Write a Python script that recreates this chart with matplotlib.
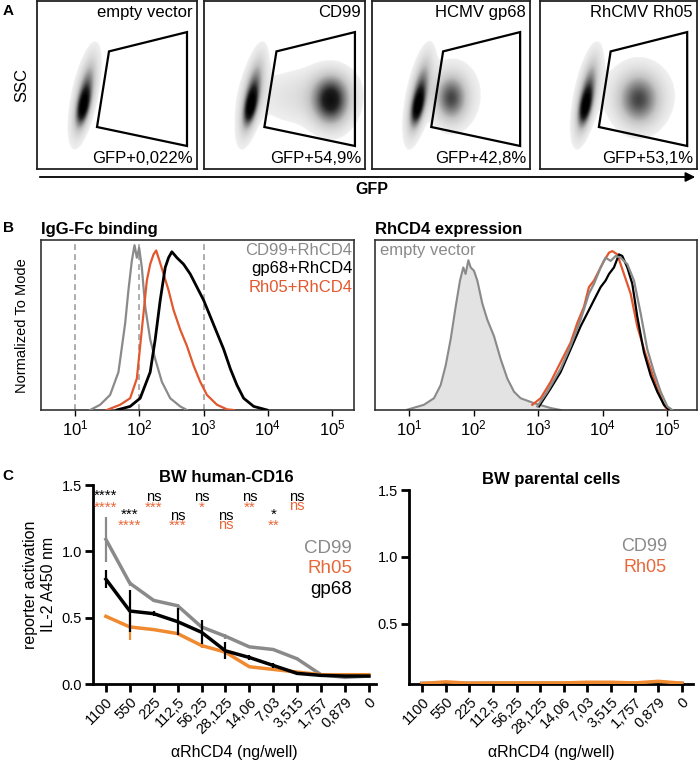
import numpy as np
import matplotlib
matplotlib.use('Agg')
import matplotlib.pyplot as plt
from matplotlib.patches import Polygon, FancyArrowPatch
from matplotlib.colors import LinearSegmentedColormap

plt.rcParams['font.family'] = ['Liberation Sans', 'DejaVu Sans']
plt.rcParams['mathtext.fontset'] = 'custom'
plt.rcParams['mathtext.rm'] = 'Liberation Sans'
plt.rcParams['mathtext.it'] = 'Liberation Sans:italic'
plt.rcParams['mathtext.bf'] = 'Liberation Sans:bold'

# ---------------- DATA ----------------
# Panel A
flow_titles = ['empty vector', 'CD99', 'HCMV gp68', 'RhCMV Rh05']
gfp_labels = ['GFP+0,022%', 'GFP+54,9%', 'GFP+42,8%', 'GFP+53,1%']
gate_x = [0.45, 0.9375, 0.9375, 0.375]
gate_y = [0.70, 0.815, 0.137, 0.25]
# density blobs: (cx, cy, sigma_along, sigma_across, tilt_deg, weight)
streak_blobs = [(0.30, 0.44, 0.14, 0.034, 12, 0.55),
                (0.29, 0.37, 0.07, 0.024, 12, 0.6),
                (0.29, 0.43, 0.18, 0.055, 12, 0.08)]
blobs_empty = []
blobs_cd99 = [(0.79, 0.40, 0.095, 0.075, 0, 0.75),
              (0.63, 0.43, 0.20, 0.11, 90, 0.14),
              (0.80, 0.50, 0.07, 0.09, 0, 0.10)]
blobs_gp68 = [(0.50, 0.42, 0.09, 0.065, 0, 0.55),
              (0.53, 0.45, 0.13, 0.11, 0, 0.12)]
blobs_rh05 = [(0.63, 0.41, 0.10, 0.085, 0, 0.55),
              (0.63, 0.45, 0.13, 0.15, 0, 0.12)]
cluster_blobs = [blobs_empty, blobs_cd99, blobs_gp68, blobs_rh05]

# Panel B left: IgG-Fc binding (log10 fluorescence, normalized count)
cd99_log = [1.234, 1.39, 1.545, 1.675, 1.78, 1.83, 1.883, 1.925, 1.961, 1.997, 2.039, 2.091,
            2.169, 2.247, 2.351, 2.48, 2.636, 2.74]
cd99_val = [0, 0.032, 0.092, 0.232, 0.532, 0.732, 0.912, 1.008, 0.932, 0.992, 0.872, 0.632,
            0.432, 0.312, 0.172, 0.072, 0.022, 0]
rh05_log = [1.494, 1.701, 1.857, 1.961, 2.013, 2.065, 2.117, 2.169, 2.221, 2.262, 2.314, 2.377,
            2.455, 2.532, 2.636, 2.74, 2.844, 2.948, 3.052, 3.208, 3.364, 3.468]
rh05_val = [0, 0.032, 0.072, 0.192, 0.392, 0.592, 0.792, 0.892, 0.952, 0.976, 0.912, 0.832,
            0.732, 0.612, 0.492, 0.392, 0.272, 0.172, 0.092, 0.032, 0.004, 0]
gp68_log = [1.649, 1.857, 2.013, 2.169, 2.247, 2.325, 2.403, 2.455, 2.506, 2.584, 2.688, 2.792,
            2.896, 3.0, 3.104, 3.208, 3.312, 3.416, 3.519, 3.623, 3.779, 3.987]
gp68_val = [0, 0.022, 0.072, 0.232, 0.432, 0.672, 0.872, 0.932, 0.968, 0.932, 0.892, 0.832,
            0.752, 0.672, 0.572, 0.472, 0.372, 0.252, 0.152, 0.072, 0.022, 0]
gate_lines = [10, 100, 1000]

# Panel B right: RhCD4 expression
ev_log = [0.974, 1.232, 1.387, 1.49, 1.568, 1.645, 1.723, 1.79, 1.841, 1.877, 1.919, 1.955,
          2.006, 2.058, 2.135, 2.213, 2.316, 2.419, 2.523, 2.626, 2.729, 2.935, 3.194, 3.348]
ev_val = [0.002, 0.032, 0.072, 0.152, 0.272, 0.432, 0.632, 0.792, 0.872, 0.832, 0.916, 0.872,
          0.852, 0.792, 0.652, 0.552, 0.452, 0.312, 0.192, 0.112, 0.072, 0.042, 0.012, 0]
rcd_orange_log = [2.91, 3.039, 3.194, 3.348, 3.503, 3.606, 3.71, 3.787, 3.865, 3.942, 4.019,
                  4.097, 4.148, 4.226, 4.329, 4.432, 4.535, 4.639, 4.742, 4.845, 4.948, 5.0]
rcd_orange_val = [0.032, 0.072, 0.172, 0.292, 0.412, 0.532, 0.632, 0.752, 0.792, 0.852, 0.912,
                  0.962, 0.972, 0.952, 0.832, 0.712, 0.512, 0.372, 0.252, 0.132, 0.032, 0]
rcd_gray_log = [2.987, 3.142, 3.348, 3.503, 3.658, 3.787, 3.865, 3.968, 4.045, 4.123, 4.2, 4.277,
                4.381, 4.484, 4.587, 4.69, 4.794, 4.897, 5.0, 5.077]
rcd_gray_val = [0.022, 0.112, 0.252, 0.392, 0.552, 0.712, 0.772, 0.872, 0.932, 0.912, 0.942,
                0.932, 0.892, 0.792, 0.592, 0.372, 0.232, 0.112, 0.022, 0]
rcd_black_log = [3.013, 3.194, 3.348, 3.503, 3.658, 3.813, 3.89, 3.968, 4.045, 4.097, 4.174,
                 4.252, 4.303, 4.381, 4.458, 4.535, 4.639, 4.742, 4.845, 4.948, 5.026]
rcd_black_val = [0.022, 0.132, 0.232, 0.372, 0.512, 0.632, 0.692, 0.752, 0.792, 0.832, 0.872,
                 0.952, 0.942, 0.872, 0.772, 0.572, 0.352, 0.212, 0.112, 0.032, 0]
b_tick_labels = [r'$\mathregular{10^{1}}$', r'$\mathregular{10^{2}}$', r'$\mathregular{10^{3}}$',
                 r'$\mathregular{10^{4}}$', r'$\mathregular{10^{5}}$']

# Panel C
doses = ['1100', '550', '225', '112,5', '56,25', '28,125', '14,06', '7,03', '3,515', '1,757',
         '0,879', '0']
cd16_cd99 = [1.09, 0.76, 0.63, 0.59, 0.43, 0.36, 0.28, 0.26, 0.19, 0.07, 0.05, 0.06]
cd16_cd99_err = [0.17, 0.02, 0.01, 0.01, 0.02, 0.02, 0.01, 0.015, 0.01, 0.005, 0.005, 0.005]
cd16_rh05 = [0.51, 0.43, 0.41, 0.38, 0.29, 0.24, 0.13, 0.11, 0.09, 0.07, 0.07, 0.07]
cd16_rh05_err = [0.01, 0.10, 0.01, 0.01, 0.02, 0.01, 0.01, 0.01, 0.01, 0.005, 0.005, 0.005]
cd16_gp68 = [0.79, 0.55, 0.53, 0.47, 0.39, 0.25, 0.20, 0.14, 0.08, 0.065, 0.06, 0.06]
cd16_gp68_err = [0.07, 0.16, 0.02, 0.10, 0.09, 0.065, 0.02, 0.02, 0.01, 0.005, 0.005, 0.005]
par_cd99 = [0.055, 0.055, 0.055, 0.055, 0.055, 0.055, 0.055, 0.058, 0.058, 0.055, 0.058, 0.055]
par_rh05 = [0.055, 0.068, 0.058, 0.06, 0.06, 0.06, 0.06, 0.065, 0.065, 0.06, 0.072, 0.058]
sig_gp68 = ['****', '***', 'ns', 'ns', 'ns', 'ns', 'ns', '*', 'ns']
sig_rh05 = ['****', '****', '***', '***', '*', 'ns', '**', '**', 'ns']

# ---------------- STYLE ----------------
W, H = 700, 760
GRAY = '#8a8a8a'
ORANGE_B = '#e2582e'
ORANGE_C = '#ef8a30'
ORANGE_T = '#e8683a'

fig = plt.figure(figsize=(7, 7.6), dpi=100)


def px(l, t, r, b):
    return [l / W, 1 - b / H, (r - l) / W, (b - t) / H]


def fx(x):
    return x / W


def fy(y):
    return 1 - y / H


# ---------------- PANEL A ----------------
cmap_a = LinearSegmentedColormap.from_list('dens', ['#efefef', '#c4c4c4', '#767676', '#202020', '#000000'])
cmap_a.set_under('white')
gx = np.linspace(0, 1, 320)
GX, GY = np.meshgrid(gx, gx)


def density(blobs):
    d = np.zeros_like(GX)
    for cx, cy, sa, sc, ang, w in blobs:
        t = np.deg2rad(ang)
        dx, dy = GX - cx, GY - cy
        ua = dx * np.sin(t) + dy * np.cos(t)
        uc = dx * np.cos(t) - dy * np.sin(t)
        d += w * np.exp(-0.5 * (ua ** 2 / sa ** 2 + uc ** 2 / sc ** 2))
    return d


boxes_a = [(37, 1, 197, 169), (204, 1, 365, 169), (372, 1, 530, 169), (540, 1, 697, 169)]
for i, bx in enumerate(boxes_a):
    ax = fig.add_axes(px(*bx))
    d = density(streak_blobs + cluster_blobs[i])
    ax.imshow(d, origin='lower', extent=(0, 1, 0, 1), cmap=cmap_a, vmin=0.05, vmax=1.0,
              aspect='auto', interpolation='bilinear')
    ax.add_patch(Polygon(list(zip(gate_x, gate_y)), closed=True, fill=False, lw=1.6, ec='black'))
    ax.set_xlim(0, 1)
    ax.set_ylim(0, 1)
    ax.set_xticks([])
    ax.set_yticks([])
    for s in ax.spines.values():
        s.set_linewidth(1.3)
        s.set_color('#222222')
    ax.text(0.975, 0.975, flow_titles[i], ha='right', va='top', fontsize=12, transform=ax.transAxes)
    ax.text(0.975, 0.015, gfp_labels[i], ha='right', va='bottom', fontsize=12, transform=ax.transAxes)

fig.text(fx(8), fy(11), 'A', fontsize=11, fontweight='bold', ha='center', va='center')
fig.text(fx(22), fy(85), 'SSC', fontsize=12, rotation=90, ha='center', va='center')
fig.add_artist(FancyArrowPatch((fx(37), fy(177)), (fx(698), fy(177)),
                               transform=fig.transFigure, arrowstyle='-|>',
                               mutation_scale=14, lw=1.3, color='black'))
fig.text(fx(372), fy(189), 'GFP', fontsize=11.5, fontweight='bold', ha='center', va='center')

# ---------------- PANEL B ----------------
fig.text(fx(8), fy(228), 'B', fontsize=11, fontweight='bold', ha='center', va='center')
axb1 = fig.add_axes(px(41, 240, 354, 410))
for g in gate_lines:
    axb1.axvline(g, color='#a0a0a0', ls=(0, (3.5, 2.5)), lw=1.2, zorder=1)
axb1.plot(10 ** np.array(cd99_log), cd99_val, color=GRAY, lw=1.6, zorder=3)
axb1.plot(10 ** np.array(rh05_log), rh05_val, color=ORANGE_B, lw=1.6, zorder=3)
axb1.plot(10 ** np.array(gp68_log), gp68_val, color='black', lw=2.0, zorder=4)
axb1.set_xscale('log')
axb1.set_xlim(10 ** 0.47, 10 ** 5.34)
axb1.set_ylim(0, 1.04)
axb1.set_yticks([])
axb1.set_xticks([10, 100, 1000, 10000, 100000])
axb1.set_xticklabels(b_tick_labels)
axb1.minorticks_off()
axb1.tick_params(axis='x', labelsize=12, length=4, width=1, direction='out', pad=2)
for s in axb1.spines.values():
    s.set_linewidth(1.2)
    s.set_color('#333333')
axb1.set_title('IgG-Fc binding', fontsize=12, fontweight='bold', loc='left', pad=4, x=0.0)
axb1.text(0.995, 0.985, 'CD99+RhCD4', color=GRAY, fontsize=12, ha='right', va='top', transform=axb1.transAxes)
axb1.text(0.995, 0.875, 'gp68+RhCD4', color='black', fontsize=12, ha='right', va='top', transform=axb1.transAxes)
axb1.text(0.995, 0.765, 'Rh05+RhCD4', color=ORANGE_B, fontsize=12, ha='right', va='top', transform=axb1.transAxes)
fig.text(fx(22), fy(326), 'Normalized To Mode', fontsize=10.5, rotation=90, ha='center', va='center')

axb2 = fig.add_axes(px(375, 240, 697, 410))
axb2.fill_between(10 ** np.array(ev_log), ev_val, 0, color='#e3e3e3', zorder=1)
axb2.plot(10 ** np.array(ev_log), ev_val, color=GRAY, lw=1.5, zorder=2)
axb2.plot(10 ** np.array(rcd_orange_log), rcd_orange_val, color=ORANGE_B, lw=1.6, zorder=3)
axb2.plot(10 ** np.array(rcd_black_log), rcd_black_val, color='black', lw=1.6, zorder=4)
axb2.plot(10 ** np.array(rcd_gray_log), rcd_gray_val, color=GRAY, lw=1.6, zorder=5)
axb2.set_xscale('log')
axb2.set_xlim(10 ** 0.474, 10 ** 5.46)
axb2.set_ylim(0, 1.04)
axb2.set_yticks([])
axb2.set_xticks([10, 100, 1000, 10000, 100000])
axb2.set_xticklabels(b_tick_labels)
axb2.minorticks_off()
axb2.tick_params(axis='x', labelsize=12, length=4, width=1, direction='out', pad=2)
for s in axb2.spines.values():
    s.set_linewidth(1.2)
    s.set_color('#333333')
axb2.set_title('RhCD4 expression', fontsize=12, fontweight='bold', loc='left', pad=4, x=0.0)
axb2.text(0.015, 0.985, 'empty vector', color=GRAY, fontsize=12, ha='left', va='top', transform=axb2.transAxes)

# ---------------- PANEL C ----------------
fig.text(fx(8), fy(476), 'C', fontsize=11, fontweight='bold', ha='center', va='center')
xi = np.arange(len(doses))


def style_c(ax):
    for s in ['top', 'right']:
        ax.spines[s].set_visible(False)
    for s in ['left', 'bottom']:
        ax.spines[s].set_linewidth(2)
    ax.tick_params(axis='both', length=6, width=2, direction='out', labelsize=10.5, pad=2)
    ax.set_xticks(xi)
    ax.set_xticklabels(doses, rotation=45, ha='right', rotation_mode='anchor')
    ax.set_xlabel('\u03b1RhCD4 (ng/well)', fontsize=11.5, labelpad=6)


axc1 = fig.add_axes(px(93, 485, 376, 684))
axc1.errorbar(xi, cd16_cd99, yerr=cd16_cd99_err, color=GRAY, lw=2.5, elinewidth=1.6, capsize=0, zorder=2)
axc1.errorbar(xi, cd16_rh05, yerr=cd16_rh05_err, color=ORANGE_C, lw=2.5, elinewidth=1.6, capsize=0, zorder=3)
axc1.errorbar(xi, cd16_gp68, yerr=cd16_gp68_err, color='black', lw=2.5, elinewidth=1.6, capsize=0, zorder=4)
axc1.set_xlim(-0.54, 11.3)
axc1.set_ylim(0, 1.5)
axc1.set_yticks([0, 0.5, 1.0, 1.5])
axc1.set_yticklabels(['0.0', '0.5', '1.0', '1.5'])
style_c(axc1)
axc1.set_ylabel('reporter activation\nIL-2 A450 nm', fontsize=11.5, labelpad=4, linespacing=1.25)
axc1.set_title('BW human-CD16', fontsize=12, fontweight='bold', pad=2, x=0.47)
for k, (sb, so) in enumerate(zip(sig_gp68, sig_rh05)):
    hi = (k % 2 == 0)
    yb = 1.41 if hi else 1.27
    yo = yb - 0.07
    star_b = set(sb) == {'*'}
    star_o = set(so) == {'*'}
    axc1.text(k, yb + (0.005 if star_b else 0), sb, color='black', fontsize=11 if star_b else 10.5,
              ha='center', va='center', clip_on=False)
    axc1.text(k, yo - (0.008 if star_o else 0), so, color=ORANGE_T, fontsize=11 if star_o else 10.5,
              ha='center', va='center', clip_on=False)
axc1.text(10.3, 1.02, 'CD99', color=GRAY, fontsize=13.5, ha='right', va='center')
axc1.text(10.3, 0.87, 'Rh05', color=ORANGE_T, fontsize=13.5, ha='right', va='center')
axc1.text(10.3, 0.71, 'gp68', color='black', fontsize=13.5, ha='right', va='center')

axc2 = fig.add_axes(px(409, 490, 693, 684))
axc2.plot(xi, par_cd99, color=GRAY, lw=3, zorder=2)
axc2.plot(xi, par_rh05, color=ORANGE_C, lw=2.5, zorder=3)
axc2.set_xlim(-0.55, 11.47)
axc2.set_ylim(0.052, 1.5)
axc2.set_yticks([0.5, 1.0, 1.5])
axc2.set_yticklabels(['0.5', '1.0', '1.5'])
style_c(axc2)
axc2.set_title('BW parental cells', fontsize=12, fontweight='bold', pad=4, x=0.5)
axc2.text(10.36, 1.08, 'CD99', color=GRAY, fontsize=13, ha='right', va='center')
axc2.text(10.36, 0.925, 'Rh05', color=ORANGE_T, fontsize=13, ha='right', va='center')

fig.savefig('out.png', dpi=100)
